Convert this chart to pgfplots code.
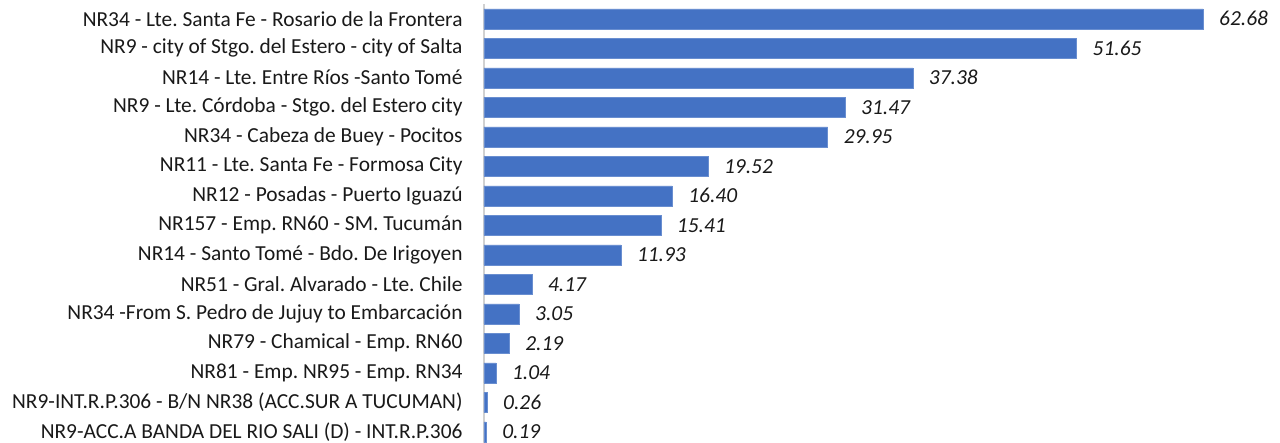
\documentclass[border=0pt]{standalone}
\usepackage{pgfplots}
\pgfplotsset{compat=1.18}
\usepackage{fontspec}
\setmainfont{Carlito}
\frenchspacing
\definecolor{barblue}{HTML}{4472C4}
\begin{document}
\begin{tikzpicture}
\useasboundingbox (0,0) rectangle (1280pt,-443pt);
\begin{axis}[
  at={(484pt,-4pt)}, anchor=north west,
  scale only axis, width=719pt, height=442.5pt,
  xbar, bar width=20pt,
  xmin=0, xmax=62.68,
  ymin=-0.5, ymax=14.5, y dir=reverse,
  axis x line=none, axis y line*=left,
  y axis line style={draw=black!18, line width=1.2pt},
  ytick={0,...,14}, ytick style={draw=none},
  yticklabels={
    NR34 - Lte. Santa Fe - Rosario de la Frontera,
    NR9 - city of Stgo. del Estero - city of Salta,
    NR14 - Lte. Entre Ríos -Santo Tomé,
    NR9 - Lte. Córdoba - Stgo. del Estero city,
    NR34 - Cabeza de Buey - Pocitos,
    NR11 - Lte. Santa Fe - Formosa City,
    NR12 - Posadas - Puerto Iguazú,
    NR157 - Emp. RN60 - SM. Tucumán,
    NR14 - Santo Tomé - Bdo. De Irigoyen,
    NR51 - Gral. Alvarado - Lte. Chile,
    NR34 -From S. Pedro de Jujuy to Embarcación,
    NR79 - Chamical - Emp. RN60,
    NR81 - Emp. NR95 - Emp. RN34,
    NR9-INT.R.P.306 - B/N NR38 (ACC.SUR A TUCUMAN),
    NR9-ACC.A BANDA DEL RIO SALI (D) - INT.R.P.306},
  yticklabel style={font=\fontsize{21.4}{23}\selectfont, inner sep=0pt, xshift=-17pt, text=black!90},
  point meta=explicit symbolic,
  nodes near coords,
  nodes near coords style={font=\fontsize{21.4}{23}\selectfont\itshape, anchor=west, inner sep=0pt, xshift=16pt, text=black!90},
  clip=false,
]
\addplot[fill=barblue, draw=barblue!80!white] coordinates {
(62.68,0) [62.68]
(51.65,1) [51.65]
(37.38,2) [37.38]
(31.47,3) [31.47]
(29.95,4) [29.95]
(19.52,5) [19.52]
(16.40,6) [16.40]
(15.41,7) [15.41]
(11.93,8) [11.93]
(4.17,9) [4.17]
(3.05,10) [3.05]
(2.19,11) [2.19]
(1.04,12) [1.04]
(0.26,13) [0.26]
(0.19,14) [0.19]
};
\end{axis}
\end{tikzpicture}
\end{document}
